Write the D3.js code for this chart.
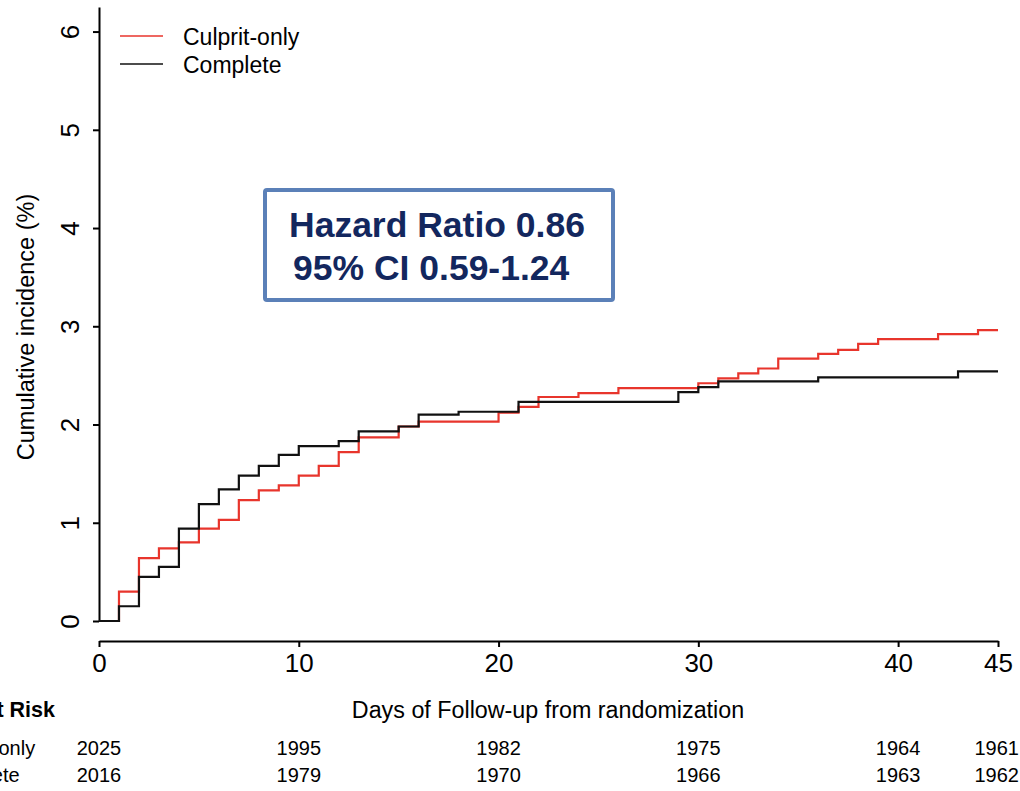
<!DOCTYPE html>
<html>
<head>
<meta charset="utf-8">
<script src="https://cdn.jsdelivr.net/npm/d3@7"></script>
<style>
  html, body { margin: 0; padding: 0; background: #fff; }
  svg { display: block; font-family: "Liberation Sans", Arial, sans-serif; }
</style>
</head>
<body>
<svg id="chart" width="1020" height="791"></svg>
<script>
// ---- data ----
const culpritDays   = [0, 1, 2, 3, 4, 5, 6, 7, 8, 9, 10, 11, 12, 13, 15, 16, 20, 21, 22, 24, 26, 30, 31, 32, 33, 34, 36, 37, 38, 39, 42, 44, 45];
const culpritValues = [0, 0.30, 0.64, 0.74, 0.80, 0.94, 1.03, 1.23, 1.33, 1.38, 1.48, 1.58, 1.72, 1.87, 1.98, 2.03, 2.12, 2.18, 2.28, 2.32, 2.37, 2.42, 2.47, 2.52, 2.57, 2.67, 2.72, 2.76, 2.82, 2.87, 2.92, 2.96, 2.96];
const completeDays   = [0, 1, 2, 3, 4, 5, 6, 7, 8, 9, 10, 12, 13, 15, 16, 18, 21, 29, 30, 31, 36, 43, 45];
const completeValues = [0, 0.15, 0.45, 0.55, 0.94, 1.19, 1.34, 1.48, 1.58, 1.69, 1.78, 1.83, 1.93, 1.98, 2.10, 2.13, 2.23, 2.33, 2.38, 2.44, 2.48, 2.54, 2.54];
const seriesNames = ["Culprit-only", "Complete"];
const xTicks = [0, 10, 20, 30, 40, 45];
const yTicks = [0, 1, 2, 3, 4, 5, 6];
const riskTimes = [0, 10, 20, 30, 40, 45];
const riskCulprit  = [2025, 1995, 1982, 1975, 1964, 1961];
const riskComplete = [2016, 1979, 1970, 1966, 1963, 1962];
const hrLines = ["Hazard Ratio 0.86", "95% CI 0.59-1.24"];

// ---- layout ----
const svg = d3.select("#chart");
const x = d3.scaleLinear().domain([0, 45]).range([99, 998]);
const y = d3.scaleLinear().domain([0, 6.25]).range([621, 7]);
const colors = ["#e8352c", "#111111"];

// y axis
const gy = svg.append("g").attr("transform", "translate(99,0)")
  .call(d3.axisLeft(y).tickValues(yTicks).tickSizeInner(6).tickSizeOuter(0).tickFormat(d3.format("d")));
gy.select(".domain").attr("stroke", "#000").attr("stroke-width", 2);
gy.selectAll(".tick line").attr("stroke", "#000").attr("stroke-width", 2);
gy.selectAll(".tick text")
  .attr("x", null).attr("dy", null)
  .attr("transform", "translate(-20,0) rotate(-90)")
  .attr("text-anchor", "middle")
  .attr("font-size", 26).attr("fill", "#000");

// x axis
const gx = svg.append("g").attr("transform", "translate(0,641)")
  .call(d3.axisBottom(x).tickValues(xTicks).tickSizeInner(6).tickSizeOuter(0).tickPadding(7).tickFormat(d3.format("d")));
gx.select(".domain").attr("stroke", "#000").attr("stroke-width", 2);
gx.selectAll(".tick line").attr("stroke", "#000").attr("stroke-width", 2);
gx.selectAll(".tick text").attr("font-size", 26).attr("fill", "#000");

// axis titles
svg.append("text")
  .attr("transform", "translate(34,327) rotate(-90)")
  .attr("text-anchor", "middle").attr("font-size", 23.5).attr("fill", "#000")
  .text("Cumulative incidence (%)");
svg.append("text")
  .attr("x", 548).attr("y", 718)
  .attr("text-anchor", "middle").attr("font-size", 23.3).attr("fill", "#000")
  .text("Days of Follow-up from randomization");

// curves
const line = d3.line().x(d => x(d[0])).y(d => y(d[1])).curve(d3.curveStepAfter);
const series = [
  culpritDays.map((d, i) => [d, culpritValues[i]]),
  completeDays.map((d, i) => [d, completeValues[i]])
];
series.forEach((s, i) => {
  svg.append("path").datum(s)
    .attr("d", line)
    .attr("fill", "none")
    .attr("stroke", colors[i])
    .attr("stroke-width", 2.2);
});

// legend
seriesNames.forEach((name, i) => {
  const ly = 36 + i * 28;
  svg.append("line").attr("x1", 120).attr("x2", 163).attr("y1", ly).attr("y2", ly)
    .attr("stroke", colors[i]).attr("stroke-width", 1.6);
  svg.append("text").attr("x", 183).attr("y", ly + 9)
    .attr("font-size", 23).attr("fill", "#000").text(name);
});

// hazard ratio box
svg.append("rect").attr("x", 265).attr("y", 190).attr("width", 348).attr("height", 110)
  .attr("fill", "#fff").attr("stroke", "#5b80b8").attr("stroke-width", 4).attr("rx", 2);
svg.append("text").attr("x", 289).attr("y", 237)
  .attr("font-size", 35.5).attr("font-weight", "bold").attr("fill", "#13275e").text(hrLines[0]);
svg.append("text").attr("x", 293).attr("y", 280)
  .attr("font-size", 35.5).attr("font-weight", "bold").attr("fill", "#13275e").text(hrLines[1]);

// number at risk table
svg.append("text").attr("x", 55).attr("y", 717).attr("text-anchor", "end")
  .attr("font-size", 21.5).attr("font-weight", "bold").attr("fill", "#000").text("Number at Risk");
const riskRows = [riskCulprit, riskComplete];
riskRows.forEach((row, r) => {
  const ry = 755 + r * 27;
  svg.append("text").attr("x", -66).attr("y", ry)
    .attr("font-size", 20).attr("fill", "#000").text(seriesNames[r]);
  row.forEach((v, i) => {
    const last = i === row.length - 1;
    svg.append("text")
      .attr("x", last ? 1019 : x(riskTimes[i]))
      .attr("y", ry)
      .attr("text-anchor", last ? "end" : "middle")
      .attr("font-size", 20).attr("fill", "#000")
      .text(v);
  });
});
</script>
</body>
</html>
